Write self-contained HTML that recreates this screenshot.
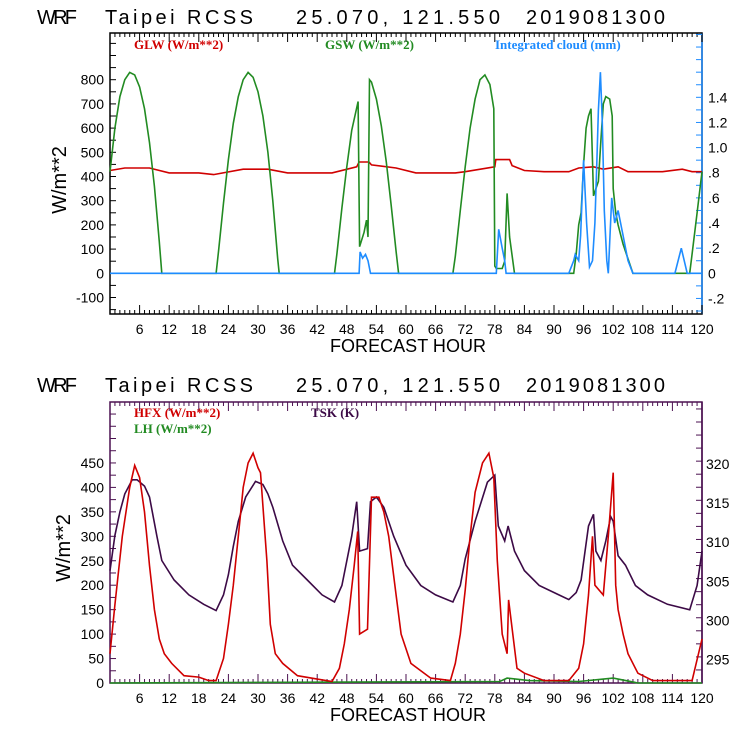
<!DOCTYPE html>
<html><head><meta charset="utf-8"><style>
html,body{margin:0;padding:0;background:#fff;}
svg{display:block;}
text{font-family:"Liberation Sans",sans-serif;}
.t{font-size:14px;fill:#000;}
.lg{font-family:"Liberation Serif",serif;font-weight:bold;font-size:13px;}
</style></head><body>
<svg id="chart" width="740" height="740" viewBox="0 0 740 740">
<g id="top"></g>
<g id="bot"></g>
</svg>
<script>
// ---- data (hours, values) ----
const glwHours=[0,3,8,12,18,21,27,32,36,45,50,50.5,52.5,53,58,62,70,72,78,78.2,81,81.5,84,88,93,95,98,100,103,105,112,116,118,120];
const glwValues=[425,435,435,415,415,408,430,430,415,415,440,460,460,448,435,415,415,420,440,470,470,445,425,420,420,435,440,430,440,420,420,430,420,420];
const gswHours=[0,1,2,3,4,5,6,7,8,9,10,10.5,21.5,22,23,24,25,26,27,28,29,30,31,32,33,34,34.3,45.5,46,47,48,49,50.3,50.6,51.5,52,52.3,52.6,53,54,55,56,57,58,58.5,69.5,70,71,72,73,74,75,76,77,77.8,78,78.3,79.5,80,80.5,81,82,94,94.5,95,95.5,96,96.5,97,97.5,98,98.5,99,99.5,100,100.5,101.3,101.8,102,102.5,103,104,105,106,117.5,118,119,120];
const gswValues=[420,600,730,800,830,820,770,680,540,360,130,0,0,90,290,470,620,730,800,830,810,750,650,500,300,60,0,0,80,270,440,590,710,110,170,220,150,800,790,720,610,460,280,90,0,0,70,260,440,600,720,800,820,780,680,30,20,20,50,330,150,0,0,80,200,250,450,600,650,680,320,350,380,550,700,730,720,650,350,250,200,120,60,0,0,80,250,420];
const cloudHours=[0,50.5,50.7,51.2,51.8,52.3,52.8,78.3,78.8,79.5,80,80.3,93,94,94.3,95,95.4,96,96.6,97.2,97.8,98.3,98.7,99,99.4,99.8,100.2,100.7,101,101.7,102.3,103,104,105,106,114.5,115.8,117,120];
const cloudValues=[0,0,0.17,0.12,0.15,0.1,0,0,0.35,0.2,0.1,0,0,0.1,0.15,0.1,0.3,0.9,0.4,0.05,0.1,0.4,0.9,1.3,1.6,1.2,0.5,0.1,0,0.6,0.4,0.5,0.3,0.1,0,0,0.2,0,0];
const hfxHours=[0,1,2.5,4,5,6,7,8,9,10,11,12.5,15,18,20,21.5,23,24,25,26,27,28,29,30,30.5,31.8,32.5,33.5,35,38,42,45,46.5,47.5,48.5,49.5,50.2,50.6,52.2,53,54,54.5,55.5,56.5,58,59,61,65,69,70,71,72,73,74,75.5,76.8,77.8,78.5,79.5,80.5,80.8,82.5,84,88,93,95,96,97,97.8,98.3,100,101,102,102.5,103,104,105,107,110,118,120];
const hfxValues=[60,160,300,400,445,420,350,240,150,90,60,40,15,12,5,5,50,120,200,300,400,450,470,440,430,250,120,60,40,15,8,3,30,80,150,240,310,100,110,380,380,380,350,300,180,100,40,10,5,40,100,190,300,390,450,470,420,250,100,60,170,30,20,5,5,30,80,180,300,200,180,300,430,200,150,100,60,20,5,5,90];
const lhHours=[0,79,80.5,85,95,100,102,107,120];
const lhValues=[0,3,10,5,3,8,10,0,0];
const tskHours=[0,1,2,3,4.5,5.5,7,8,9.5,10.5,13,16,19,21.5,23,24,25,26,27.5,29.5,31,32,33,35,37,40,43,45.5,47,49,50,50.6,52.2,52.8,54,55.5,57.5,60,63,66,69.5,71,72,74,76.5,78,78.7,80,80.7,82,84,87,91,93,94.5,95.5,97,98,98.5,99.5,100.5,101.5,102,103,104.5,106.5,109,113,117.5,119,120];
const tskValues=[306.5,311.0,314.0,316.3,318.1,318.1,317.3,315.9,310.9,307.8,305.3,303.4,302.2,301.4,303.4,306.0,309.6,312.8,315.9,317.9,317.5,316.3,314.6,310.3,307.2,305.3,303.4,302.5,304.6,310.9,315.3,309.0,309.3,315.3,315.9,314.6,310.9,307.2,304.6,303.4,302.5,304.6,308.0,312.8,317.8,318.7,312.2,310.3,312.2,309.0,306.5,304.6,303.4,302.8,303.7,305.3,312.2,313.7,309.0,307.8,310.3,313.4,312.8,308.4,307.2,304.6,303.4,302.2,301.5,304.6,309.0];
const xTicks=[6,12,18,24,30,36,42,48,54,60,66,72,78,84,90,96,102,108,114,120];
const topLeftTicks=[-100,0,100,200,300,400,500,600,700,800];
const topRightTicks=[-0.2,0,0.2,0.4,0.6,0.8,1.0,1.2,1.4];
const topRightLabels=["-.2","0",".2",".4",".6",".8","1.0","1.2","1.4"];
const botLeftTicks=[0,50,100,150,200,250,300,350,400,450];
const botRightTicks=[295,300,305,310,315,320];

const NS="http://www.w3.org/2000/svg";
function mk(tag,attrs,parent){const e=document.createElementNS(NS,tag);for(const k in attrs)e.setAttribute(k,attrs[k]);parent.appendChild(e);return e;}
const X0=110,X1=702;
const xs=h=>X0+(X1-X0)*h/120;

function panel(g,top,bot,yL,yR,frameCol,rightCol,lMin,lMax,lMinor,rMin,rMax,rMinor){
  const f=mk('rect',{x:X0,y:top,width:X1-X0,height:bot-top,fill:'none',stroke:frameCol,'stroke-width':1.5},g);
  
  
  const ra=mk('line',{x1:X1,y1:top,x2:X1,y2:bot,stroke:rightCol,'stroke-width':1.5},g);
  
  
  for(let h=0;h<=120;h++){const x=xs(h),L=h%6==0?9:4;
    const t1=mk('line',{x1:x,y1:bot,x2:x,y2:bot-L,stroke:frameCol},g);
    
    
    const t2=mk('line',{x1:x,y1:top,x2:x,y2:top+L,stroke:frameCol},g);
    
    }
  xTicks.forEach(h=>{const t=mk('text',{x:xs(h),y:bot+20,'text-anchor':'middle',class:'t'},g);t.textContent=h;
    
    });
  for(let v=lMin;v<=lMax+1e-9;v+=lMinor){const y=yL(v);if(y<top||y>bot)continue;
    const t=mk('line',{x1:X0,y1:y,x2:X0+6,y2:y,stroke:frameCol},g);
    
    }
  for(let v=rMin;v<=rMax+1e-9;v+=rMinor){const y=yR(v);if(y<top||y>bot)continue;
    const t=mk('line',{x1:X1,y1:y,x2:X1-6,y2:y,stroke:rightCol},g);
    
    }
}
function series(g,hours,vals,ysc,col,name){
  const p=mk('polyline',{points:hours.map((h,i)=>xs(h).toFixed(1)+','+ysc(vals[i]).toFixed(1)).join(' '),fill:'none',stroke:col,'stroke-width':1.6,'stroke-linejoin':'miter'},g);
  
  
}
function txt(g,x,y,s,cls,col,name,anchor,extra){
  const t=mk('text',Object.assign({x:x,y:y,class:cls,fill:col,'text-anchor':anchor||'start'},extra||{}),g);t.textContent=s;
  
  return t;
}
function title(g,y){
  const st={'font-size':'20px'};
  txt(g,37,y,'W R F','', '#000','title-model','start',Object.assign({textLength:40},st));
  txt(g,105,y,'Taipei RCSS','', '#000','title-site','start',Object.assign({textLength:148},st));
  txt(g,296,y,'25.070, 121.550','', '#000','title-coords','start',Object.assign({textLength:204},st));
  txt(g,526,y,'2019081300','', '#000','title-date','start',Object.assign({textLength:139},st));
}
// ---- top panel ----
const gt=document.getElementById('top');
const tTop=33,tBot=314;
const yT=v=>273.3-v*0.242;
const yC=v=>273.3-v*125.7;
title(gt,24);
panel(gt,tTop,tBot,yT,yC,'#000','#1e8cff',-150,950,50,-0.3,1.9,0.1);
series(gt,glwHours,glwValues,yT,'#d00000','glw-line');
series(gt,gswHours,gswValues,yT,'#228b22','gsw-line');
series(gt,cloudHours,cloudValues,yC,'#1e8cff','cloud-line');
topLeftTicks.forEach(v=>txt(gt,104,yT(v)+5,String(v),'t','#000','y-tick-label','end'));
topRightTicks.forEach((v,i)=>txt(gt,708,yC(v)+5,topRightLabels[i],'t','#000','y2-tick-label','start'));
txt(gt,134,49,'GLW (W/m**2)','lg','#d00000','legend-glw');
txt(gt,325,49,'GSW (W/m**2)','lg','#228b22','legend-gsw');
txt(gt,495,49,'Integrated cloud (mm)','lg','#1e8cff','legend-cloud');
txt(gt,408,352,'FORECAST HOUR','', '#000','x-axis-title','middle',{'font-size':'18px',textLength:156});
txt(gt,0,0,'W/m**2','', '#000','y-axis-title','middle',{'font-size':'20px',transform:'translate(66,180) rotate(-90)'});
// ---- bottom panel ----
const gb=document.getElementById('bot');
const bTop=402,bBot=683;
const yB=v=>683-v*0.489;
const yK=v=>683-(v-292.15)*7.83;
title(gb,392);
panel(gb,bTop,bBot,yB,yK,'#4b1050','#4b1050',0,575,25,292.15,328,5/3);
series(gb,lhHours,lhValues,yB,'#228b22','lh-line');
series(gb,tskHours,tskValues,yK,'#3c0a46','tsk-line');
series(gb,hfxHours,hfxValues,yB,'#d00000','hfx-line');
botLeftTicks.forEach(v=>txt(gb,104,yB(v)+5,String(v),'t','#000','y-tick-label','end'));
botRightTicks.forEach(v=>txt(gb,706,yK(v)+4,String(v),'t','#000','y2-tick-label','start',{'font-size':'11px'}));
txt(gb,134,417,'HFX (W/m**2)','lg','#d00000','legend-hfx');
txt(gb,134,433,'LH  (W/m**2)','lg','#228b22','legend-lh','start',{'xml:space':'preserve'});
txt(gb,311,417,'TSK (K)','lg','#3c0a46','legend-tsk');
txt(gb,408,721,'FORECAST HOUR','', '#000','x-axis-title','middle',{'font-size':'18px',textLength:156});
txt(gb,0,0,'W/m**2','', '#000','y-axis-title','middle',{'font-size':'20px',transform:'translate(70,548) rotate(-90)'});
</script>
</body></html>
